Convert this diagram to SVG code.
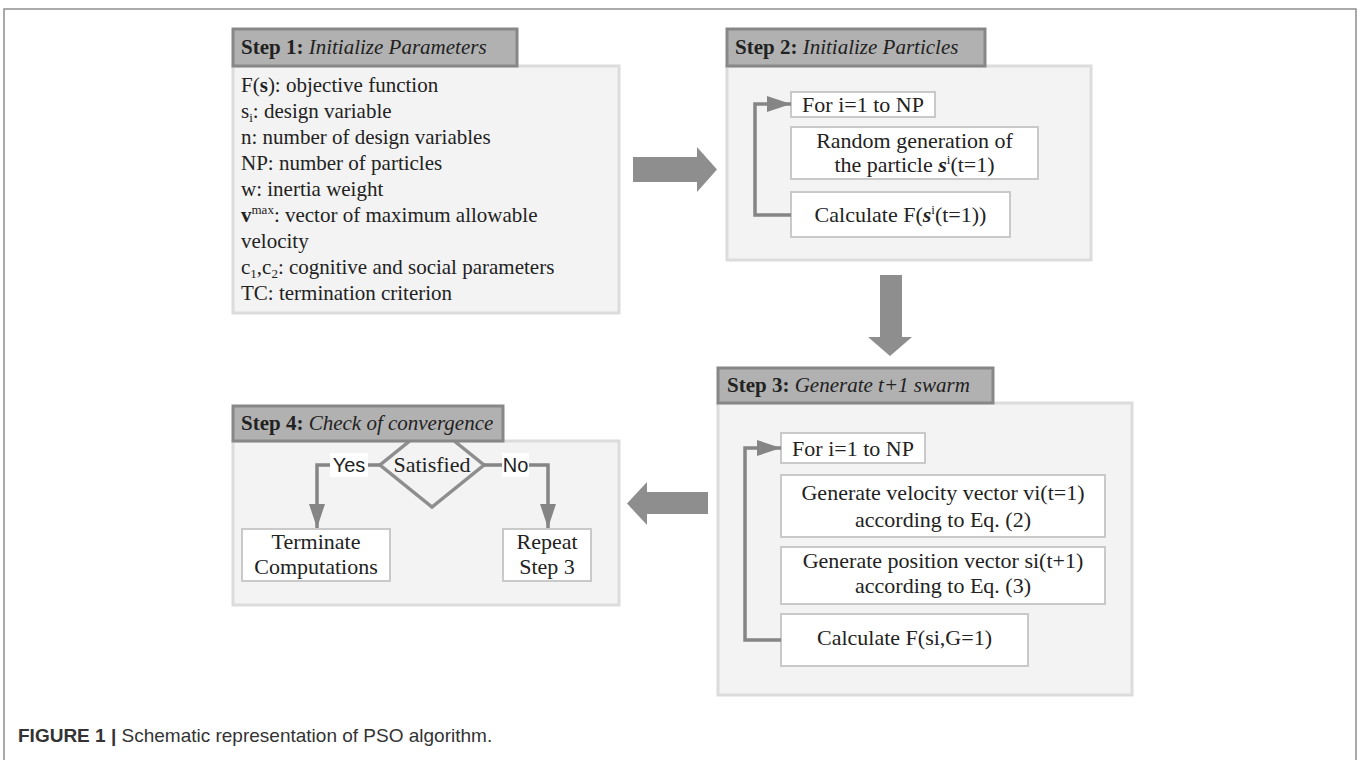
<svg xmlns="http://www.w3.org/2000/svg" width="1357" height="760" viewBox="0 0 1357 760">
<style>
.frame{fill:none;stroke:#8f8f8f;stroke-width:1.5}
.hdr{fill:#b1b1b1;stroke:#878787;stroke-width:3}
.body{fill:#f3f3f3;stroke:#dcdcdc;stroke-width:3}
.box{fill:#ffffff;stroke:#c9c9c9;stroke-width:2}
.blk{fill:#8e8e8e}
.ln{fill:none;stroke:#858585;stroke-width:3.5}
.dia{fill:#f3f3f3;stroke:#8e8e8e;stroke-width:3.5}
text{font-family:"Liberation Serif",serif;fill:#222}
.t{font-size:21px}
.c{font-size:22px;text-anchor:middle}
.b{font-weight:bold}
.i{font-style:italic}
.s{font-family:"Liberation Sans",Arial,sans-serif;font-size:20px}
.cap{font-family:"Liberation Sans",Arial,sans-serif;font-size:19px;fill:#333}
</style>
<defs>
<marker id="ah" viewBox="0 0 24 16" refX="24" refY="8" markerWidth="24" markerHeight="16" markerUnits="userSpaceOnUse" orient="auto">
<path d="M0,0 L24,8 L0,16 Z" fill="#858585"/>
</marker>
</defs>
<path class="frame" d="M4,760 L4,9 L1356,9 L1356,760"/>

<g id="step1">
<rect class="body" x="233" y="66" width="386" height="247"/>
<rect class="hdr" x="233" y="29" width="284" height="37"/>
<text class="t" x="241" y="54"><tspan class="b">Step 1:</tspan><tspan class="i"> Initialize Parameters</tspan></text>
<text class="t" x="241" y="91.5">F(<tspan class="b">s</tspan>): objective function</text>
<text class="t" x="241" y="117.5">s<tspan font-size="13" dy="4">i</tspan><tspan dy="-4">: design variable</tspan></text>
<text class="t" x="241" y="143.5">n: number of design variables</text>
<text class="t" x="241" y="169.5">NP: number of particles</text>
<text class="t" x="241" y="195.5">w: inertia weight</text>
<text class="t" x="241" y="221.5"><tspan class="b">v</tspan><tspan font-size="13" dy="-8">max</tspan><tspan dy="8">: vector of maximum allowable</tspan></text>
<text class="t" x="241" y="247.5">velocity</text>
<text class="t" x="241" y="273.5">c<tspan font-size="13" dy="4">1</tspan><tspan dy="-4">,c</tspan><tspan font-size="13" dy="4">2</tspan><tspan dy="-4">: cognitive and social parameters</tspan></text>
<text class="t" x="241" y="299.5">TC: termination criterion</text>
</g>

<g id="step2">
<rect class="body" x="727" y="66" width="364" height="194"/>
<rect class="hdr" x="727" y="29" width="258" height="37"/>
<text class="t" x="735" y="54"><tspan class="b">Step 2:</tspan><tspan class="i"> Initialize Particles</tspan></text>
<rect class="box" x="791" y="92" width="144" height="25"/>
<text class="c" x="863" y="112">For i=1 to NP</text>
<rect class="box" x="791" y="127" width="247" height="52"/>
<text class="c" x="914.5" y="148">Random generation of</text>
<text class="c" x="914.5" y="172">the particle <tspan class="b i">s</tspan><tspan font-size="13" dy="-8">i</tspan><tspan dy="8">(t=1)</tspan></text>
<rect class="box" x="791" y="192" width="219" height="45"/>
<text class="c" x="900.5" y="222">Calculate F(<tspan class="b i">s</tspan><tspan font-size="13" dy="-8">i</tspan><tspan dy="8">(t=1))</tspan></text>
</g>

<g id="step3">
<rect class="body" x="718" y="403" width="414" height="292"/>
<rect class="hdr" x="718" y="368" width="275" height="35"/>
<text class="t" x="727" y="392"><tspan class="b">Step 3:</tspan><tspan class="i"> Generate t+1 swarm</tspan></text>
<rect class="box" x="781" y="433" width="144" height="30"/>
<text class="c" x="853" y="456">For i=1 to NP</text>
<rect class="box" x="781" y="475" width="324" height="62"/>
<text class="c" x="943" y="500">Generate velocity vector vi(t=1)</text>
<text class="c" x="943" y="527">according to Eq. (2)</text>
<rect class="box" x="781" y="547" width="324" height="57"/>
<text class="c" x="943" y="568">Generate position vector si(t+1)</text>
<text class="c" x="943" y="593">according to Eq. (3)</text>
<rect class="box" x="781" y="614" width="247" height="52"/>
<text class="c" x="904.5" y="645">Calculate F(si,G=1)</text>
</g>

<g id="step4">
<rect class="body" x="233" y="441" width="386" height="164"/>
<polygon class="dia" points="432,423 484,465 432,507 380,465"/>
<rect class="hdr" x="233" y="406" width="270" height="35"/>
<text class="t" x="241" y="430"><tspan class="b">Step 4:</tspan><tspan class="i"> Check of convergence</tspan></text>
<text class="c" x="432" y="472">Satisfied</text>
<rect class="box" x="242" y="529" width="148" height="52"/>
<text class="c" x="316" y="549">Terminate</text>
<text class="c" x="316" y="574">Computations</text>
<rect class="box" x="503" y="529" width="88" height="52"/>
<text class="c" x="547" y="549">Repeat</text>
<text class="c" x="547" y="574">Step 3</text>
</g>

<g id="connectors">
<polygon class="blk" points="633,157 697,157 697,147 717,169.5 697,192 697,182 633,182"/>
<polygon class="blk" points="880,275 902,275 902,337 912,337 890,356 868,337 880,337"/>
<polygon class="blk" points="708,492 647,492 647,482 627,503.5 647,525 647,514 708,514"/>
<path class="ln" d="M791,215 L755,215 L755,104 L791,104" marker-end="url(#ah)"/>
<path class="ln" d="M781,640 L745,640 L745,448 L781,448" marker-end="url(#ah)"/>
<path class="ln" d="M380,465 L317,465 L317,528" marker-end="url(#ah)"/>
<path class="ln" d="M484,465 L548,465 L548,528" marker-end="url(#ah)"/>
<rect x="330" y="453" width="38" height="24" fill="#ffffff"/>
<text class="s" x="349" y="472" text-anchor="middle">Yes</text>
<rect x="502" y="453" width="27" height="24" fill="#ffffff"/>
<text class="s" x="515.5" y="472" text-anchor="middle">No</text>
</g>

<text class="cap" x="18" y="742"><tspan font-weight="bold">FIGURE 1 | </tspan>Schematic representation of PSO algorithm.</text>
</svg>
